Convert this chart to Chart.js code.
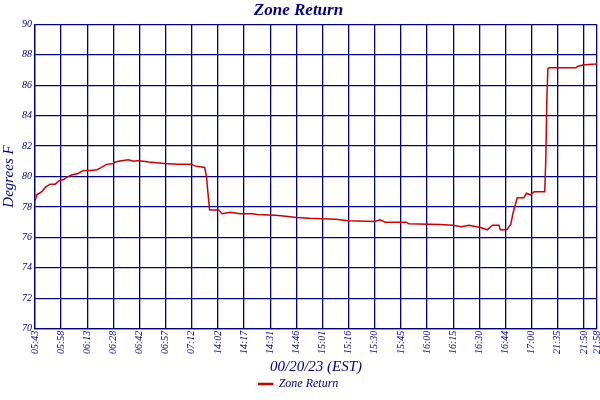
<!DOCTYPE html>
<html><head><script src="https://cdn.jsdelivr.net/npm/chart.js@4"></script>
<style>html,body{margin:0;background:#fff}#c{width:600px;height:400px}</style></head>
<body><div id="c"><canvas id="cv" width="600" height="400"></canvas></div>
<script>
const tickLabels=["05:43","05:58","06:13","06:28","06:42","06:57","07:12","14:02","14:17","14:31","14:46","15:01","15:16","15:30","15:45","16:00","16:15","16:30","16:44","17:00","21:35","21:50","21:58"];
const tickPos=[0,1,2,3,4,5,6,7,8,9,10,11,12,13,14,15,16,17,18,19,20,21,21.5];
const xs=[0,0.07,0.26,0.4,0.58,0.77,0.9,1.09,1.21,1.4,1.65,1.85,2.11,2.37,2.49,2.74,3.0,3.06,3.07,3.19,3.57,3.78,3.97,4.09,4.16,4.35,4.96,5.47,5.98,6.1,6.49,6.56,6.64,6.68,7.03,7.16,7.47,7.85,8.0,8.3,8.5,9.2,9.5,10,10.5,11.5,12,13,13.2,13.4,14.2,14.3,15.5,16,16.3,16.6,16.9,17.05,17.3,17.5,17.75,17.8,18.05,18.2,18.3,18.45,18.7,18.8,18.95,19.1,19.5,19.54,19.58,19.62,19.66,20.13,20.7,20.77,21.02,21.46,21.58];
const ys=[78.4,78.8,79.0,79.3,79.5,79.5,79.7,79.8,79.95,80.1,80.2,80.4,80.4,80.45,80.55,80.8,80.85,80.95,80.95,81.0,81.1,81.0,81.05,81.0,81.0,80.95,80.85,80.8,80.8,80.7,80.6,80.0,78.5,77.8,77.8,77.55,77.65,77.55,77.55,77.55,77.5,77.45,77.4,77.3,77.25,77.2,77.1,77.05,77.15,77.0,77.0,76.9,76.85,76.8,76.7,76.8,76.7,76.65,76.5,76.8,76.8,76.5,76.5,76.85,77.7,78.6,78.6,78.9,78.8,79.0,79.0,81.05,85.0,87.08,87.15,87.15,87.15,87.25,87.35,87.4,87.5];
const navy='#000080';
const pts=xs.map((x,i)=>({x,y:ys[i]}));
new Chart(document.getElementById('cv'),{type:'line',
data:{datasets:[{label:'Zone Return',data:pts,borderColor:'#cc0000',backgroundColor:'#cc0000',borderWidth:1.5,pointRadius:0,tension:0}]},
options:{responsive:false,animation:false,
layout:{padding:{left:0,right:3,top:0,bottom:0}},
plugins:{title:{display:true,text:'Zone Return',color:navy,font:{family:'Liberation Serif',size:17,style:'italic'},padding:{top:0,bottom:4}},
legend:{position:'bottom',labels:{color:navy,font:{family:'Liberation Serif',size:12,style:'italic'},boxWidth:14,boxHeight:1,padding:2}}},
scales:{
x:{type:'linear',min:0,max:21.5,
afterBuildTicks:a=>{a.ticks=tickPos.map(v=>({value:v}));},
afterFit:s=>{s.paddingRight=0;s.paddingLeft=0;},
ticks:{autoSkip:false,maxRotation:90,minRotation:90,color:navy,font:{family:'Liberation Serif',size:10,style:'italic'},padding:2,callback:(v,i)=>tickLabels[i]},
grid:{color:navy,lineWidth:1.3,drawTicks:false},border:{color:navy,width:1.3},
title:{display:true,text:'00/20/23 (EST)',color:navy,font:{family:'Liberation Serif',size:15,style:'italic'},padding:{top:2,bottom:0}}},
y:{min:70,max:90,afterFit:s=>{s.width=35;},
ticks:{stepSize:2,color:navy,font:{family:'Liberation Serif',size:10,style:'italic'},padding:3},
grid:{color:navy,lineWidth:1.3,drawTicks:false},border:{color:navy,width:1.3},
title:{display:true,text:'Degrees F',color:navy,font:{family:'Liberation Serif',size:15,style:'italic'},padding:0}}}}});
</script></body></html>
